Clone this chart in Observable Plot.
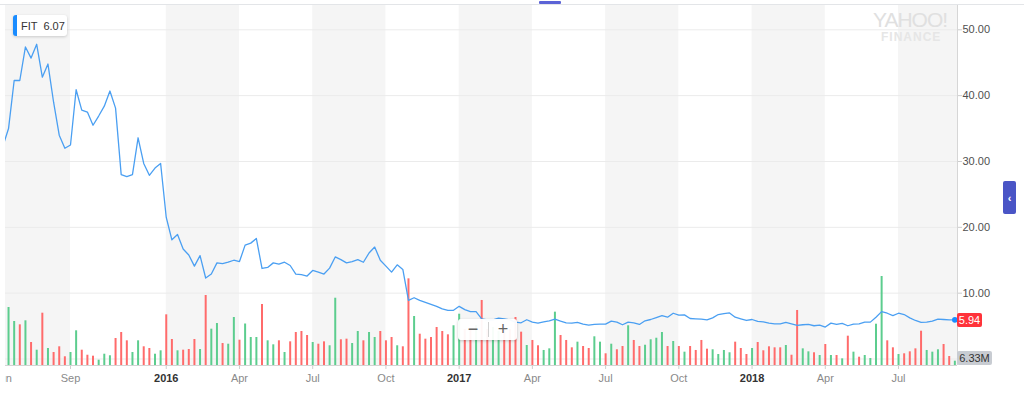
<!DOCTYPE html>
<html><head><meta charset="utf-8">
<script src="https://cdn.jsdelivr.net/npm/d3@7"></script>
<script src="https://cdn.jsdelivr.net/npm/@observablehq/plot@0.6"></script>
<style>
html,body{margin:0;padding:0;background:#fff;}
#wrap{position:relative;width:1024px;height:395px;overflow:hidden;font-family:"Liberation Sans",Arial,Helvetica,sans-serif;}
.layer{position:absolute;left:0;top:0;width:1024px;height:395px;}
.ui{position:absolute;box-sizing:border-box;}
</style></head><body><div id="wrap"></div>
<script>
// ---------- DATA ----------
const firstWeek = "2015-06-15"; // weekly points, one per Monday
const closes = [
 32.3,35.0,42.3,42.3,47.4,45.7,47.8,42.8,44.8,39.0,
 34.0,32.0,32.5,40.9,37.8,37.5,35.5,36.9,38.4,40.7,
 38.1,28.0,27.7,28.0,33.6,29.7,27.9,29.0,29.7,21.5,
 18.1,18.9,16.7,15.8,14.1,15.7,12.3,12.9,14.6,14.5,
 14.7,15.0,14.8,17.3,17.6,18.3,13.75,13.9,14.6,14.4,
 14.7,14.2,12.9,12.8,12.6,13.45,13.2,12.9,13.8,15.5,
 15.1,14.6,14.8,15.1,14.7,16.1,17.0,15.0,14.1,13.2,
 14.3,13.6,8.9,9.3,8.9,8.6,8.3,8.0,7.6,7.4,
 7.4,8.0,7.5,7.2,7.2,6.1,5.95,5.95,6.2,6.1,
 5.95,5.6,5.5,5.96,5.6,5.45,5.65,5.8,6.05,5.75,
 5.5,5.45,5.55,5.3,5.15,5.25,5.3,5.3,5.75,5.6,
 5.2,5.6,5.5,5.25,5.8,6.0,6.3,6.6,6.35,6.95,
 6.65,6.7,6.15,6.1,6.05,5.95,6.25,6.75,6.9,7.0,
 6.35,6.1,5.85,6.0,5.7,5.65,5.45,5.35,5.35,5.55,
 5.35,5.1,5.2,5.25,5.05,5.15,4.85,5.45,5.25,5.4,
 5.05,5.3,5.35,5.6,5.6,6.35,7.2,6.95,6.6,6.95,
 6.75,6.25,5.85,5.55,5.6,5.75,6.05,6.0,5.95,5.94
];
const volumesM = [
 58.8,85.3,64.7,59.8,65.7,33.8,22.5,76.9,25.0,19.1,
 27.5,12.8,19.1,51.0,22.5,15.1,13.7,7.8,16.6,14.3,
 39.7,48.5,36.3,19.1,36.3,27.5,25.0,16.6,21.6,74.5,
 38.2,21.6,22.5,23.5,38.2,23.5,102.9,53.4,61.7,32.3,
 31.3,70.6,37.2,61.0,41.2,41.2,89.7,36.3,30.4,36.3,
 19.1,34.8,48.5,50.0,44.1,33.8,31.3,34.8,29.0,98.9,
 37.8,38.7,32.3,50.0,36.3,48.5,41.2,50.0,36.3,41.2,
 29.0,27.5,127.4,72.0,46.0,38.7,41.2,55.9,50.0,45.1,
 58.4,75.4,52.9,52.9,58.8,95.6,52.9,55.9,50.0,52.9,
 52.9,70.6,49.0,29.4,36.8,29.0,22.1,24.5,78.4,44.1,
 36.8,26.0,34.3,27.9,25.0,42.2,34.3,17.2,31.3,23.1,
 27.9,58.4,36.8,27.9,29.8,37.8,40.1,48.5,27.9,35.3,
 27.9,19.6,27.9,22.1,36.8,24.0,23.1,16.2,22.1,18.7,
 34.3,25.0,16.2,25.0,33.8,21.6,27.5,26.0,26.0,29.4,
 15.1,80.9,24.5,20.1,18.7,14.7,30.9,14.7,14.7,9.8,
 43.1,19.6,12.2,14.7,10.3,60.7,130.8,36.3,26.0,16.2,
 17.2,20.1,24.5,50.4,22.1,19.6,23.1,30.9,13.2,6.33
];
// G = week closed up (green volume bar), R = down (red)
const direction = (
 "RGGRGRGRGR"+"RRGGRRRGGG"+"RRRGGRRGGR"+"RGRRRGRGGR"+"GGRGGGRGGR"+
 "GRRRRGRRGG"+"RRGGRGGRRR"+"GRRGRRRRRR"+"GGRRGRRGGR"+"RRRGRRGGGR"+
 "RRGRRGGRGR"+"RGRRGGGGRG"+"RGRRRRGGGG"+"RRRGRRRRRG"+"RRGGRGRGRG"+
 "RGRGGGGRRG"+"RRRRGGGRRG").split("");
const monthTicks = ["2015-06-15","2015-09-07","2016-04-04","2016-07-04","2016-10-03","2017-04-03","2017-07-03","2017-10-02","2018-04-02","2018-07-02"];
const monthLabels = ["Jun","Sep","Apr","Jul","Oct","Apr","Jul","Oct","Apr","Jul"];
const yearTicks = ["2016-01-04","2017-01-02","2018-01-01"];
const yearLabels = ["2016","2017","2018"];
const priceTicks = [10,20,30,40,50];
const priceGrid = [0,10,20,30,40,50];
const symbol = "FIT", tooltipPrice = "6.07", lastPrice = "5.94", lastVolume = "6.33M";

// ---------- BUILD ----------
const start = new Date(firstWeek);
const data = closes.map((c,i)=>({date: d3.utcDay.offset(start, 7*i), close: c, vol: volumesM[i], up: direction[i]==="G"}));
const d0 = new Date(Date.UTC(2015,5,18,5,30)), d1 = new Date(Date.UTC(2018,8,13,7,0));
const mDates = monthTicks.map(d=>new Date(d)), yDates = yearTicks.map(d=>new Date(d));
const mLab = new Map(mDates.map((d,i)=>[+d, monthLabels[i]]));
const yLab = new Map(yDates.map((d,i)=>[+d, yearLabels[i]]));
const allTicks = [...mDates, ...yDates].sort((a,b)=>a-b);
const bands = [];
for (let k=0;k<allTicks.length;k+=2) bands.push({start: allTicks[k], end: allTicks[k+1] ?? d1});

const font = "'Liberation Sans', Arial, Helvetica, sans-serif";
const base = {width:1024, height:395, marginLeft:5, marginRight:67, marginTop:5, marginBottom:30};
const xs = {type:"utc", domain:[d0,d1]};
const priceY = {domain:[0,50], range:[358.5,29.3]};

const plotA = Plot.plot({...base,
  style:{background:"#fff", fontFamily:font, fontSize:"11px"},
  x: xs, y: {...priceY},
  marks:[
    Plot.rect(bands,{x1:"start",x2:"end",fill:"#f5f5f5",clip:true}),
    Plot.ruleY(priceGrid,{stroke:"#ebebeb"}),
    Plot.ruleX([d1],{stroke:"#d6d6d6"}),
    Plot.axisY({anchor:"right",ticks:priceTicks,tickFormat:d=>d.toFixed(2),tickSize:4,tickPadding:1,stroke:"#cccccc",fill:"#4f4f4f",fontSize:11,label:null}),
    Plot.axisX({ticks:mDates,tickFormat:d=>mLab.get(+d),tickSize:4,tickPadding:5,stroke:"#cfcfcf",fill:"#8a8a8a",fontSize:11,label:null}),
    Plot.axisX({ticks:yDates,tickFormat:d=>yLab.get(+d),tickSize:4,tickPadding:5,stroke:"#cfcfcf",fill:"#333",fontSize:11,fontWeight:"bold",label:null})
  ]});

const plotB = Plot.plot({...base,
  style:{background:"transparent"},
  x:{...xs, axis:null}, y:{domain:[0,529.2], axis:null},
  marks:[
    Plot.ruleX(data.filter(d=>d.up),{x:"date",y1:0,y2:"vol",stroke:"#5ccd8e",strokeWidth:2,clip:true}),
    Plot.ruleX(data.filter(d=>!d.up),{x:"date",y1:0,y2:"vol",stroke:"#ff6b6b",strokeWidth:2,clip:true}),
    Plot.ruleY([0],{stroke:"#d4d4d4"})
  ]});

const plotC = Plot.plot({...base,
  style:{background:"transparent"},
  x:{...xs, axis:null}, y:{...priceY, axis:null},
  marks:[
    Plot.line(data,{x:"date",y:"close",stroke:"#4a9ff2",strokeWidth:1.3,clip:true}),
    Plot.dot(data.slice(-1),{x:"date",y:"close",r:2.8,fill:"#1a8cff"})
  ]});

const wrap = document.getElementById("wrap");
[plotA, plotB, plotC].forEach((p,i)=>{
  const div = document.createElement("div"); div.className="layer";
  if (i===0) p.style.clipPath = "inset(0 0 0 5px)";
  div.appendChild(p); wrap.appendChild(div);
});

// ---------- UI chrome ----------
function ui(css, html=""){ const e=document.createElement("div"); e.className="ui"; e.style.cssText=css; e.innerHTML=html; wrap.appendChild(e); return e; }
ui("left:0;top:4px;width:1024px;height:1px;background:#e3e5e8;");
ui("left:539px;top:1px;width:22px;height:3px;background:#5b63d6;border-radius:1px;");
ui(`left:873px;top:9px;width:80px;font:300 21px ${font};letter-spacing:-1px;color:#e0e0e0;line-height:21px;`, "YAHOO!");
ui(`left:881px;top:31px;width:70px;font:bold 12px ${font};letter-spacing:1px;color:#e6e6e6;line-height:12px;`, "FINANCE");
ui(`left:13px;top:15px;width:54px;height:21px;background:#fff;border-left:4px solid #1a8cff;border-radius:3px;box-shadow:0 1px 3px rgba(0,0,0,0.18);display:flex;align-items:center;padding-left:4px;font:11px ${font};color:#333;white-space:pre;`, `${symbol}  ${tooltipPrice}`);
ui(`left:957px;top:312.5px;width:25px;height:14px;background:#ff333a;border-radius:2px;color:#fff;font:11px ${font};display:flex;align-items:center;justify-content:center;`, lastPrice);
ui(`left:957px;top:351px;width:35px;height:13.5px;background:#c8ccd2;border-radius:2px;color:#333;font:11px ${font};display:flex;align-items:center;justify-content:center;`, lastVolume);
ui(`left:1003px;top:181px;width:13px;height:33px;background:#4a55c6;border-radius:2px;color:#fff;font:bold 11px ${font};display:flex;align-items:center;justify-content:center;`, "&lsaquo;");
const zc = ui(`left:458px;top:319px;width:59px;height:21px;background:rgba(255,255,255,0.95);border-radius:3px;box-shadow:0 1px 3px rgba(0,0,0,0.22);`);
zc.innerHTML = `<div style="position:absolute;left:0;top:0;width:30px;height:21px;display:flex;align-items:center;justify-content:center;font:18px ${font};color:#666;">&minus;</div>
<div style="position:absolute;left:30px;top:3px;width:1px;height:15px;background:#d0d0d0;"></div>
<div style="position:absolute;left:31px;top:0;width:28px;height:21px;display:flex;align-items:center;justify-content:center;font:18px ${font};color:#666;">+</div>`;
</script></body></html>
